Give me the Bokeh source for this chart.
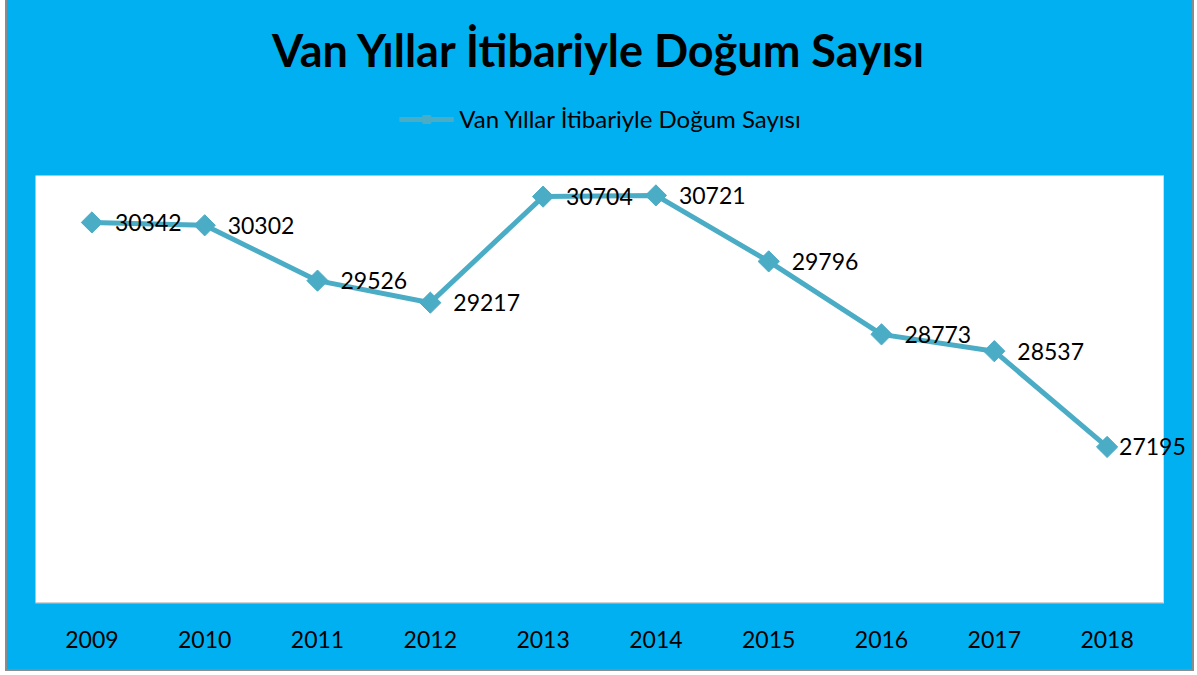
from bokeh.plotting import figure
from bokeh.models import (ColumnDataSource, LabelSet, Label, Legend, LegendItem, Range1d,
                          BoxAnnotation, FixedTicker)
from bokeh.core.properties import value
from bokeh.embed import file_html
from bokeh.resources import INLINE
import math

years = ["2009", "2010", "2011", "2012", "2013", "2014", "2015", "2016", "2017", "2018"]
births = [30342, 30302, 29526, 29217, 30704, 30721, 29796, 28773, 28537, 27195]
series_name = "Van Yıllar İtibariyle Doğum Sayısı"
title_text = "Van Yıllar İtibariyle Doğum Sayısı"
y_min, y_max = 25000, 31000

BLUE = "#00B0F0"
LINE = "#4BACC6"
GRAY = "#A6A6A6"
FONT = "Lato"

n = len(years)
idx = list(range(n))
label_dx = [23] * (n - 1) + [12]
src = ColumnDataSource(dict(x=idx, y=births, lbl=[str(v) for v in births], dx=label_dx))

# figure spans x 7..1192, y 0..669; white plot area 35..1163 x 175..603
W, H = 1185, 669
px_per_cat = 1128 / n
pad_l = 28 / px_per_cat
pad_r = 29 / px_per_cat
px_per_unit = 428 / (y_max - y_min)
y_top = y_max + 175 / px_per_unit

p = figure(width=W, height=H,
           x_range=Range1d(-0.5 - pad_l, n - 0.5 + pad_r),
           y_range=Range1d(y_min, y_top), output_backend="svg", toolbar_location=None,
           min_border_left=0, min_border_right=0, min_border_top=0, min_border_bottom=66,
           background_fill_color=BLUE, border_fill_color=BLUE, outline_line_color=None,
           margin=(0, 0, 0, 7))
p.styles = {"outline": "2px solid #8C8C8C", "background-color": BLUE}

white = BoxAnnotation(left=-0.5, right=n - 0.5, bottom=y_min, top=y_max,
                      fill_color="white", fill_alpha=1, line_color=None, level="underlay")
p.add_layout(white)

# thin gray edges along bottom and right of the plot area
p.segment(x0=[-0.5, n - 0.5], y0=[y_min, y_min], x1=[n - 0.5, n - 0.5], y1=[y_min, y_max],
          line_color=[GRAY, "#D9D9D9"], line_width=[2, 1])

title = Label(x=(n - 1) / 2, y=y_max + (175 - 49) / px_per_unit, text=title_text,
              text_align="center", text_baseline="middle", text_font=FONT,
              text_font_size="45px", text_font_style="bold", text_color="black")
p.add_layout(title)

r = p.line("x", "y", source=src, line_color=LINE, line_width=5)
m = p.scatter("x", "y", source=src, marker="square", angle=math.pi / 4, size=15,
              fill_color=LINE, line_color=LINE)

labels = LabelSet(x="x", y="y", text="lbl", source=src, x_offset="dx", y_offset=0,
                  text_baseline="middle", text_font=value(FONT), text_font_size="23px",
                  text_color="black")
p.add_layout(labels)

legend = Legend(items=[LegendItem(label=series_name, renderers=[r, m])], orientation="horizontal",
                background_fill_alpha=0, border_line_color=None, label_text_font=FONT,
                label_text_font_size="24px", label_text_color="black", glyph_width=55,
                glyph_height=20, label_height=28, location="top_center", margin=104, padding=0,
                label_standoff=6)
p.add_layout(legend)

p.yaxis.visible = False
p.xgrid.visible = False
p.ygrid.visible = False
p.xaxis.ticker = FixedTicker(ticks=idx)
p.xaxis.major_label_overrides = {i: y for i, y in zip(idx, years)}
p.xaxis.axis_line_color = None
p.xaxis.major_tick_line_color = None
p.xaxis.minor_tick_line_color = None
p.xaxis.major_label_text_font = FONT
p.xaxis.major_label_text_font_size = "23px"
p.xaxis.major_label_text_color = "black"
p.xaxis.major_label_standoff = 21

open("out.html", "w").write(file_html(p, INLINE))
